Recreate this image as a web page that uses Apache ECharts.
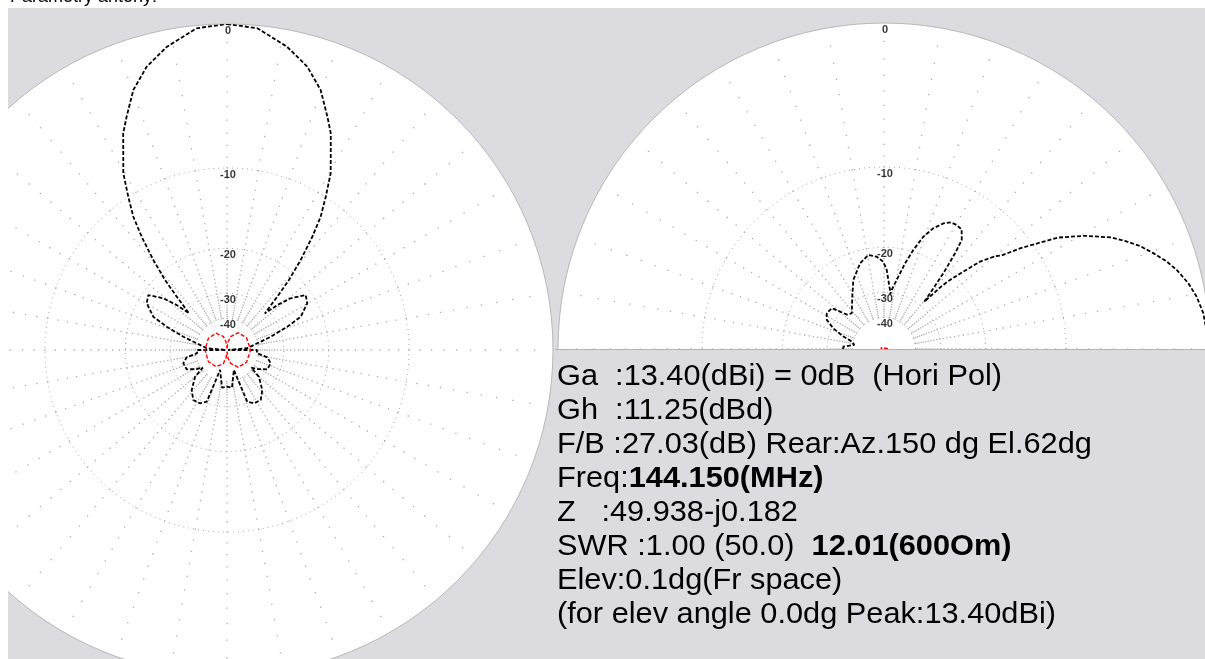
<!DOCTYPE html>
<html>
<head>
<meta charset="utf-8">
<script src="https://cdn.jsdelivr.net/npm/echarts@6/dist/echarts.min.js"></script>
<style>
  html, body { margin: 0; padding: 0; background: #fff; }
  #chart { width: 1205px; height: 659px; }
</style>
</head>
<body>
<div id="chart"></div>
<script>
// ---- data -------------------------------------------------------------
const titleText = 'Parametry antény:';

// dB rings and their labels
const ringDb = [0, -10, -20, -30, -40];
const ringLabels = ['0', '-10', '-20', '-30', '-40'];

// Horizontal (azimuth) pattern, horizontal polarisation: [azimuth deg, dB]
const azHori = [
  [0, 0], [5.4, -0.15], [11.2, -0.91], [15.8, -1.74], [19.8, -2.83], [23.3, -4.29],
  [25.6, -5.24], [30.4, -7.97], [32.8, -9.98], [35.1, -11.91], [37.0, -14.29],
  [39.3, -17.69], [41.5, -21.43], [43.3, -25.61], [46.0, -31.3], [48.2, -27.03],
  [50.9, -23.69], [55.1, -20.98], [59.8, -21.55], [65.7, -23.92], [68.9, -27.78],
  [73.1, -33.72], [77.5, -40.38], [85.0, -47.57], [89.0, -100], [90.0, -40.95],
  [96.0, -40.95], [100.3, -35.58], [106.9, -33.72], [115.6, -34.10], [122.0, -37.82],
  [126.0, -40.95], [130.0, -35.29], [138.6, -31.05], [146.0, -28.96], [153.1, -29.11],
  [158.6, -30.39], [161.0, -47.07], [165.0, -44.08], [172.5, -36.89], [180.0, -37.5],
  [187.5, -36.89], [195.0, -44.08], [199.0, -47.07], [201.4, -30.39], [206.9, -29.11],
  [214.0, -28.96], [221.4, -31.05], [230.0, -35.29], [234.0, -40.95], [238.0, -37.82],
  [244.4, -34.10], [253.1, -33.72], [259.7, -35.58], [264.0, -40.95], [270.0, -40.95],
  [271.0, -100], [275.0, -47.57], [282.5, -40.38], [286.9, -33.72], [291.1, -27.78],
  [294.3, -23.92], [300.2, -21.55], [304.9, -20.98], [309.1, -23.69], [311.8, -27.03],
  [314.0, -31.3], [316.7, -25.61], [318.5, -21.43], [320.7, -17.69], [323.0, -14.29],
  [324.9, -11.91], [327.2, -9.98], [329.6, -7.97], [334.4, -5.24], [336.7, -4.29],
  [340.2, -2.83], [344.2, -1.74], [348.8, -0.91], [354.6, -0.15], [360, 0]
];

// Horizontal (azimuth) pattern, vertical polarisation
const azVert = [
  [0, -90], [7, -63.6], [15, -54.3], [33, -47.4], [58, -45.5], [90, -45.0],
  [122, -45.5], [147, -47.4], [165, -54.3], [173, -63.6], [180, -90],
  [187, -63.6], [195, -54.0], [213, -47.9], [238, -46.3], [270, -46.3],
  [302, -46.3], [327, -47.9], [345, -54.0], [353, -63.6], [360, -90]
];

// Vertical (elevation) pattern, horizontal polarisation: [elevation deg, dB]
const elHori = [
  [0, 0], [6.4, -0.25], [9.5, -0.48], [12.2, -0.79], [15.1, -1.24], [17.2, -1.66],
  [19.6, -2.26], [21.9, -2.86], [23.9, -3.53], [26.1, -4.32], [29.4, -5.94],
  [32.6, -7.81], [34.3, -9.37], [36.5, -11.26], [38.5, -13.3], [39.8, -13.9],
  [42.3, -15.81], [44.3, -18.54], [46.3, -21.07], [47.5, -23.0], [49.5, -28.5],
  [50.4, -25.87], [51.9, -20.95], [53.4, -17.27], [54.5, -15.27], [57.0, -14.2],
  [59.6, -14.06], [62.0, -14.1], [64.7, -14.63], [67.8, -15.73], [70.7, -17.30],
  [73.5, -19.74], [76.2, -22.44], [78.8, -25.52], [82.6, -29.19], [83.5, -30.5],
  [84.2, -29.25], [86.4, -26.62], [88.0, -24.33], [90.5, -22.61], [94.5, -21.60],
  [99.5, -21.11], [105.6, -22.28], [114.0, -25.11], [122.0, -29.05], [132.0, -32.84],
  [137.0, -32.0], [142.0, -27.34], [148.0, -27.03], [153.0, -27.89], [157.8, -30.61],
  [163.0, -34.97], [167.0, -39.26], [172.0, -40.95], [176.8, -35.67], [180.0, -35.6]
];

// Vertical (elevation) pattern, vertical polarisation
const elVert = [[0, -75.5], [30, -82], [90, -100], [150, -83], [180, -80.5]];

// Summary table: [text, bold]
const infoLines = [
  [['Ga  :13.40(dBi) = 0dB  (Hori Pol)', 0]],
  [['Gh  :11.25(dBd)', 0]],
  [['F/B :27.03(dB) Rear:Az.150 dg El.62dg', 0]],
  [['Freq:', 0], ['144.150(MHz)', 1]],
  [['Z   :49.938-j0.182', 0]],
  [['SWR :1.00 (50.0)  ', 0], ['12.01(600Om)', 1]],
  [['Elev:0.1dg(Fr space)', 0]],
  [['(for elev angle 0.0dg Peak:13.40dBi)', 0]]
];

// ---- scale --------------------------------------------------------------
// ARRL-style log radius: every 2 dB down shrinks the radius by a factor 0.89
const toRadius = db => Math.pow(0.89, -db / 2);
const toPoints = arr => arr.map(([a, db]) => [toRadius(db), a]);

// ---- layout -------------------------------------------------------------
const PANEL = '#dcdce0';
const FONT = '"Liberation Sans", Arial, sans-serif';
const polars = [
  { center: [227, 350], radius: 326, start: 90, clockwise: true },
  { center: [884, 349], radius: 326, start: 0, clockwise: false }
];

// dotted spokes every 10 degrees, one dot per dB step
function gridDots() {
  const pts = [];
  for (let a = 0; a < 360; a += 10) {
    for (let d = 1; d <= 40; d++) pts.push([toRadius(-d), a]);
  }
  return pts;
}
function ringLine(db) {
  const pts = [];
  for (let a = 0; a <= 360; a += 2) pts.push([toRadius(db), a]);
  return pts;
}

const series = [];
polars.forEach((p, i) => {
  series.push({
    type: 'scatter', coordinateSystem: 'polar', polarIndex: i, silent: true,
    symbol: 'rect', symbolSize: 1.3, itemStyle: { color: '#999999' },
    data: gridDots(), z: 1
  });
  ringDb.slice(1).forEach(db => series.push({
    type: 'line', coordinateSystem: 'polar', polarIndex: i, silent: true,
    showSymbol: false, data: ringLine(db),
    lineStyle: { color: '#a6a6a6', width: 1, type: [1, 4] }, z: 1
  }));
  const labelAngle = i === 0 ? 0 : 90;
  series.push({
    type: 'scatter', coordinateSystem: 'polar', polarIndex: i, silent: true,
    symbolSize: 0,
    data: ringDb.map((db, k) => ({ value: [toRadius(db), labelAngle], name: ringLabels[k] })),
    label: {
      show: true, position: 'inside', formatter: '{b}', offset: [1, 7],
      color: '#000', fontSize: 11, fontFamily: FONT, fontWeight: 'bold'
    },
    z: 4
  });
});

const patternLine = (data, idx, color, width) => ({
  type: 'line', coordinateSystem: 'polar', polarIndex: idx, silent: true,
  showSymbol: false, smooth: false, data: toPoints(data),
  lineStyle: { color, width, type: [4, 2] }, z: 3
});
series.push(patternLine(azHori, 0, '#000', 1.8));
series.push(patternLine(azVert, 0, '#ff0000', 1.4));
series.push(patternLine(elHori, 1, '#000', 1.8));
series.push(patternLine(elVert, 1, '#ff0000', 1.8));

// ---- text block --------------------------------------------------------
const infoGraphics = infoLines.map((segs, k) => ({
  type: 'text', x: 557, y: 362 + k * 34, scaleX: 1.06, z: 60,
  style: {
    text: segs.map(([t, b]) => `{${b ? 'b' : 'n'}|${t}}`).join(''),
    rich: {
      n: { font: `29px ${FONT}`, fill: '#000' },
      b: { font: `bold 29px ${FONT}`, fill: '#000' }
    }
  }
}));

const option = {
  animation: false,
  backgroundColor: '#ffffff',
  polar: polars.map(p => ({ center: p.center, radius: p.radius })),
  angleAxis: polars.map((p, i) => ({
    polarIndex: i, type: 'value', min: 0, max: 360, interval: 10,
    startAngle: p.start, clockwise: p.clockwise,
    axisLine: { show: true, lineStyle: { color: '#b8b8b8', width: 1 } },
    axisTick: { show: false }, axisLabel: { show: false },
    splitLine: { show: false },
    splitArea: { show: true, areaStyle: { color: ['#ffffff'] } }
  })),
  radiusAxis: polars.map((p, i) => ({
    polarIndex: i, type: 'value', min: 0, max: 1,
    axisLine: { show: false }, axisTick: { show: false },
    axisLabel: { show: false }, splitLine: { show: false }
  })),
  series,
  graphic: [
    { type: 'text', x: 10, y: -12, z: -101,
      style: { text: titleText, font: `18px ${FONT}`, fill: '#000' } },
    { type: 'rect', shape: { x: 8, y: 8, width: 1197, height: 651 },
      style: { fill: PANEL }, z: -100 },
    { type: 'rect', shape: { x: 0, y: 0, width: 8, height: 659 },
      style: { fill: '#ffffff' }, z: 100 },
    { type: 'rect', shape: { x: 555, y: 350, width: 650, height: 309 },
      style: { fill: PANEL }, z: 50 },
    { type: 'line', shape: { x1: 555, y1: 349.5, x2: 1205, y2: 349.5 },
      style: { stroke: '#b4b4b4', lineWidth: 1 }, z: 51 },
    ...infoGraphics
  ]
};

const chart = echarts.init(document.getElementById('chart'), null, { renderer: 'canvas' });
chart.setOption(option);
</script>
</body>
</html>
